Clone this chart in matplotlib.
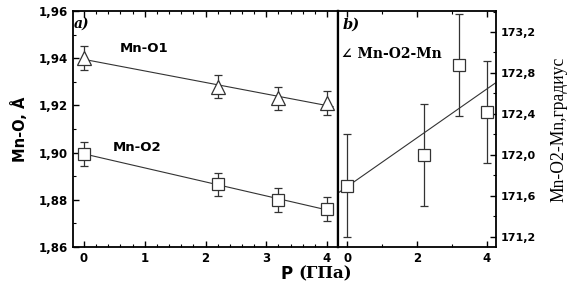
import numpy as np
import matplotlib
matplotlib.use("Agg")
import matplotlib.pyplot as plt
from matplotlib.font_manager import FontProperties
from matplotlib.ticker import FixedLocator, FixedFormatter, MultipleLocator

# ---- data ----
p_left = [0.0, 2.2, 3.2, 4.0]
mn_o1 = [1.940, 1.928, 1.923, 1.921]
mn_o1_err = [0.005, 0.005, 0.005, 0.005]
mn_o2 = [1.8995, 1.8865, 1.880, 1.876]
mn_o2_err = [0.005, 0.005, 0.005, 0.005]

p_right = [0.0, 2.2, 3.2, 4.0]
angle = [171.70, 172.00, 172.88, 172.42]
angle_err = [0.5, 0.5, 0.5, 0.5]

left_xticks = [0, 1, 2, 3, 4]
left_xlabels = ["0", "1", "2", "3", "4"]
left_yticks = [1.86, 1.88, 1.90, 1.92, 1.94, 1.96]
left_ylabels = ["1,86", "1,88", "1,90", "1,92", "1,94", "1,96"]
right_xticks = [0, 2, 4]
right_xlabels = ["0", "2", "4"]
right_yticks = [171.2, 171.6, 172.0, 172.4, 172.8, 173.2]
right_ylabels = ["171,2", "171,6", "172,0", "172,4", "172,8", "173,2"]

fig = plt.figure(figsize=(5.8, 2.85), dpi=100)
axL = fig.add_axes([73/580, 38/285, 265/580, 236/285])
axR = fig.add_axes([338/580, 38/285, 158/580, 236/285])

ink = "#333333"

# ---- left panel ----
for y, e, m, ms in [(mn_o1, mn_o1_err, "^", 9.5), (mn_o2, mn_o2_err, "s", 8.5)]:
    axL.errorbar(p_left, y, yerr=e, fmt=m, ms=ms, mfc="white", mec=ink,
                 mew=0.9, ecolor=ink, elinewidth=0.9, capsize=2.7, capthick=0.9, zorder=3)
    k, b = np.polyfit(p_left, y, 1)
    xx = np.array([0.0, 4.1])
    axL.plot(xx, k * xx + b, color=ink, lw=0.8, zorder=2)

axL.set_xlim(-0.18, 4.18)
axL.set_ylim(1.86, 1.96)
axL.xaxis.set_major_locator(FixedLocator(left_xticks))
axL.xaxis.set_major_formatter(FixedFormatter(left_xlabels))
axL.xaxis.set_minor_locator(MultipleLocator(0.2))
axL.yaxis.set_major_locator(FixedLocator(left_yticks))
axL.yaxis.set_major_formatter(FixedFormatter(left_ylabels))
axL.yaxis.set_minor_locator(MultipleLocator(0.01))
axL.tick_params(axis="both", which="both", direction="in", top=True, right=False)
axL.tick_params(which="major", length=4, width=1)
axL.tick_params(which="minor", length=2, width=0.8)
fpL = FontProperties(family="DejaVu Sans", weight="bold", size=8.5)
for lab in axL.get_xticklabels() + axL.get_yticklabels():
    lab.set_fontproperties(fpL)
axL.set_ylabel("Mn-O, Å", fontsize=10.5, fontweight="bold", family="DejaVu Sans", labelpad=8)

axL.text(0.99, 1.9443, "Mn-O1", fontsize=9.5, fontweight="bold", ha="center", va="center")
axL.text(0.87, 1.9020, "Mn-O2", fontsize=9.5, fontweight="bold", ha="center", va="center")
axL.text(-0.03, 1.9545, "a)", fontsize=10, fontweight="bold", style="italic",
         family="DejaVu Serif", ha="center", va="center")

# ---- right panel ----
axR.errorbar(p_right, angle, yerr=angle_err, fmt="s", ms=8.5, mfc="white", mec=ink,
             mew=0.9, ecolor=ink, elinewidth=0.9, capsize=2.7, capthick=0.9, zorder=3)
k, b = np.polyfit(p_right, angle, 1)
xx = np.array([-0.26, 4.26])
axR.plot(xx, k * xx + b, color=ink, lw=0.8, zorder=2)

axR.set_xlim(-0.26, 4.26)
axR.set_ylim(171.10, 173.405)
axR.xaxis.set_major_locator(FixedLocator(right_xticks))
axR.xaxis.set_major_formatter(FixedFormatter(right_xlabels))
axR.xaxis.set_minor_locator(MultipleLocator(1))
axR.yaxis.set_major_locator(FixedLocator(right_yticks))
axR.yaxis.set_major_formatter(FixedFormatter(right_ylabels))
axR.yaxis.set_minor_locator(MultipleLocator(0.2))
axR.yaxis.tick_right()
axR.yaxis.set_label_position("right")
axR.tick_params(axis="both", which="both", direction="in", top=True, left=False, right=True)
axR.tick_params(which="major", length=4, width=1)
axR.tick_params(which="minor", length=2, width=0.8)
fpR = FontProperties(family="DejaVu Sans", weight="bold", size=8)
for lab in axR.get_yticklabels():
    lab.set_fontproperties(fpR)
fpL_x = FontProperties(family="DejaVu Sans", weight="bold", size=8.5)
for lab in axR.get_xticklabels():
    lab.set_fontproperties(fpL_x)
axR.set_ylabel("Mn-O2-Mn,градиус", fontsize=12.7, family="Liberation Serif", labelpad=10)

axR.text(-0.16, 172.985, "∠ Mn-O2-Mn", fontsize=10, fontweight="bold",
         family="DejaVu Serif", ha="left", va="center")
axR.text(-0.13, 173.27, "b)", fontsize=10.5, fontweight="bold", style="italic",
         family="DejaVu Serif", ha="left", va="center")

for ax in (axL, axR):
    for s in ax.spines.values():
        s.set_linewidth(1.3)
axL.spines["right"].set_linewidth(1.6)
axR.spines["left"].set_linewidth(1.6)

fig.text(293/580, 1 - 274/285, "P", fontsize=12, fontweight="bold",
         family="DejaVu Sans", ha="right", va="center")
fig.text(298/580, 1 - 274/285, "(ГПа)", fontsize=12, fontweight="bold",
         family="DejaVu Serif", ha="left", va="center")

fig.savefig("out.png", dpi=100)
